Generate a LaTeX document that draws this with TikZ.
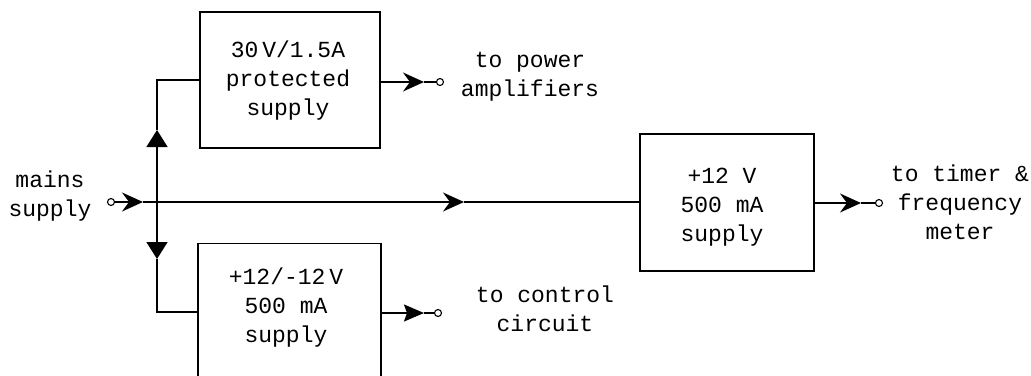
\documentclass[tikz,border=0pt]{standalone}
\usepackage{fontspec}
\setmonofont{Liberation Mono}
\usetikzlibrary{arrows.meta}
\begin{document}
\begin{tikzpicture}[x=1pt,y=-1pt,
  line width=1.6pt,
  txt/.style={font=\ttfamily\fontsize{23}{29}\selectfont, align=center, inner sep=0pt},
  blockbox/.style={draw, rectangle, inner sep=0pt, line width=1.3pt},
  term/.style={draw, circle, minimum size=7pt, inner sep=0pt, line width=1.1pt, fill=white},
  barb/.style={-{Stealth[length=21pt,width=19pt,inset=7pt]}},
  tri/.style={-{Triangle[length=17pt,width=21pt]}},
  trib/.style={-{Stealth[length=20pt,width=17pt,inset=3pt]}}]
\useasboundingbox (0,0) rectangle (1031,375);

% supply blocks
\node[blockbox, minimum width=180pt, minimum height=136pt] (top) at (290,80) {};
\node[txt] (toptxt) at (288,81) {30\,V/1.5A\\protected\\supply};
\node[blockbox, minimum width=183pt, minimum height=200pt, anchor=north] (bot) at (289.5,243) {};
\node[txt] (bottxt) at (286,308) {+12/-12\,V\\500 mA\\supply};
\node[blockbox, minimum width=174pt, minimum height=137pt] (right) at (727,202.5) {};
\node[txt] (righttxt) at (722,207) {+12 V\\500 mA\\supply};

% outside labels
\node[txt] (mains) at (50,196) {mains\\supply};
\node[txt] (amps) at (530,77) {to power\\amplifiers};
\node[txt] (ctrl) at (545,309) {to control\\circuit};
\node[txt] (timer) at (960,202) {to timer \&\\frequency\\meter};

% terminals
\node[term] (tin) at (111,202) {};
\node[term] (tamp) at (440,82) {};
\node[term] (tctrl) at (438,313) {};
\node[term] (ttim) at (879,203) {};

% routing points
\coordinate (j) at (157,202);
\coordinate (a1) at (143,202);
\coordinate (a2) at (464,202);
\coordinate (up) at (157,130);
\coordinate (cu) at (157,80);
\coordinate (dn) at (157,259);
\coordinate (cd) at (157,312);
\coordinate (ao1) at (424,82);
\coordinate (ao2) at (424,313);
\coordinate (ao3) at (861,203);

% mains line
\draw[barb] (tin) -- (a1);
\draw (a1) -- (j);
\draw[barb] (j) -- (a2);
\draw (a2) -- (right.west |- a2);

% branches
\draw[tri] (j) -- (up);
\draw (up) -- (cu) -- (top.west |- cu);
\draw[tri] (j) -- (dn);
\draw (dn) -- (cd) -- (bot.west |- cd);

% outputs
\draw[barb] (top.east |- ao1) -- (ao1);
\draw (ao1) -- (tamp);
\draw[trib] (bot.east |- ao2) -- (ao2);
\draw (ao2) -- (tctrl);
\draw[barb] (right.east |- ao3) -- (ao3);
\draw (ao3) -- (ttim);
\end{tikzpicture}
\end{document}
